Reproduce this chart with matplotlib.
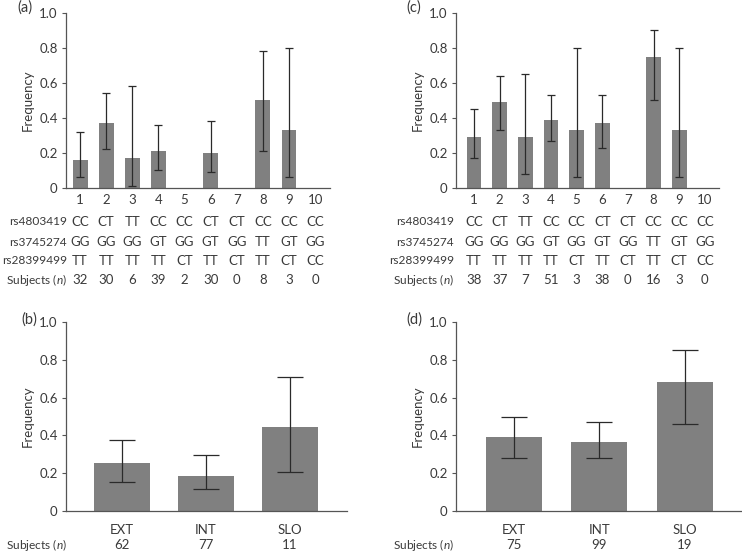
import matplotlib
matplotlib.use("Agg")
import matplotlib.pyplot as plt
import matplotlib.transforms as mtransforms
import numpy as np

plt.rcParams["font.family"] = ["Lato", "DejaVu Sans"]
plt.rcParams["mathtext.fontset"] = "custom"
plt.rcParams["mathtext.it"] = "Lato:italic"
plt.rcParams["mathtext.rm"] = "Lato"

TEXT = "#3a3a3a"
BAR = "#808080"
FS = 9.5
FS_ROW = 8.6

# ---------------------------------------------------------------------------
# Data
# ---------------------------------------------------------------------------
haplotypes = [1, 2, 3, 4, 5, 6, 7, 8, 9, 10]
rs4803419 = ["CC", "CT", "TT", "CC", "CC", "CT", "CT", "CC", "CC", "CC"]
rs3745274 = ["GG", "GG", "GG", "GT", "GG", "GT", "GG", "TT", "GT", "GG"]
rs28399499 = ["TT", "TT", "TT", "TT", "CT", "TT", "CT", "TT", "CT", "CC"]

# panel (a)
freq_a = [0.16, 0.37, 0.17, 0.21, 0.0, 0.20, 0.0, 0.50, 0.33, 0.0]
lo_a = [0.06, 0.22, 0.01, 0.10, None, 0.09, None, 0.21, 0.06, None]
hi_a = [0.32, 0.54, 0.58, 0.36, None, 0.38, None, 0.78, 0.80, None]
subj_a = [32, 30, 6, 39, 2, 30, 0, 8, 3, 0]

# panel (c)
freq_c = [0.29, 0.49, 0.29, 0.39, 0.33, 0.37, 0.0, 0.75, 0.33, 0.0]
lo_c = [0.17, 0.33, 0.08, 0.27, 0.06, 0.23, None, 0.50, 0.06, None]
hi_c = [0.45, 0.64, 0.65, 0.53, 0.80, 0.53, None, 0.90, 0.80, None]
subj_c = [38, 37, 7, 51, 3, 38, 0, 16, 3, 0]

# panels (b) and (d)
groups = ["EXT", "INT", "SLO"]
freq_b = [0.255, 0.185, 0.445]
lo_b = [0.155, 0.115, 0.205]
hi_b = [0.375, 0.295, 0.71]
subj_b = [62, 77, 11]

freq_d = [0.39, 0.365, 0.68]
lo_d = [0.28, 0.28, 0.46]
hi_d = [0.50, 0.47, 0.85]
subj_d = [75, 99, 19]

W, H = 742, 554


def px_axes(fig, left, right, top, bottom):
    return fig.add_axes([left / W, 1 - bottom / H, (right - left) / W, (bottom - top) / H])


def style_axes(ax):
    ax.set_ylim(0, 1.0)
    ax.set_yticks([0, 0.2, 0.4, 0.6, 0.8, 1.0])
    ax.set_yticklabels(["0", "0.2", "0.4", "0.6", "0.8", "1.0"])
    for s in ("top", "right"):
        ax.spines[s].set_visible(False)
    for s in ("left", "bottom"):
        ax.spines[s].set_color("#555555")
        ax.spines[s].set_linewidth(0.9)
    ax.tick_params(axis="y", length=3, width=0.8, color="#555555",
                   labelsize=FS, labelcolor=TEXT, pad=3)
    ax.tick_params(axis="x", length=0, labelsize=FS, labelcolor=TEXT, pad=4)
    ax.set_ylabel("Frequency", fontsize=FS, color=TEXT, labelpad=4)


def draw_bars(ax, x, freq, lo, hi, width, capsize):
    ax.bar(x, freq, width=width, color=BAR, zorder=2)
    xs = [xi for xi, l in zip(x, lo) if l is not None]
    ys = [f for f, l in zip(freq, lo) if l is not None]
    lows = [f - l for f, l in zip(freq, lo) if l is not None]
    highs = [h - f for f, h in zip(freq, hi) if h is not None]
    ax.errorbar(xs, ys, yerr=[lows, highs], fmt="none", ecolor="#2a2a2a",
                elinewidth=0.9, capsize=capsize, capthick=0.9, zorder=3)


def table_rows(fig, ax, label_x, rows):
    trans = mtransforms.blended_transform_factory(ax.transData, fig.transFigure)
    for ypx, label, vals in rows:
        yf = 1 - ypx / H
        fig.text(label_x / W, yf, label, ha="right", va="center",
                 fontsize=FS_ROW, color=TEXT)
        for xi, v in zip(range(1, len(vals) + 1), vals):
            ax.text(xi, yf, str(v), transform=trans, ha="center", va="center",
                    fontsize=FS, color=TEXT, clip_on=False)


fig = plt.figure(figsize=(W / 100, H / 100), dpi=100)

# ---- (a) ----
ax_a = px_axes(fig, 66, 330, 13, 188)
draw_bars(ax_a, haplotypes, freq_a, lo_a, hi_a, 0.57, 3.2)
ax_a.set_xlim(0.46, 10.57)
ax_a.set_xticks(haplotypes)
style_axes(ax_a)
table_rows(fig, ax_a, 67, [
    (222, "rs4803419", rs4803419),
    (242, "rs3745274", rs3745274),
    (261, "rs28399499", rs28399499),
    (280, "Subjects ($n$)", subj_a),
])
fig.text(17 / W, 1 - 8 / H, "(a)", fontsize=10.5, color=TEXT, va="center")

# ---- (c) ----
ax_c = px_axes(fig, 456, 719, 13, 188)
draw_bars(ax_c, haplotypes, freq_c, lo_c, hi_c, 0.57, 3.2)
ax_c.set_xlim(0.30, 10.55)
ax_c.set_xticks(haplotypes)
style_axes(ax_c)
table_rows(fig, ax_c, 454, [
    (222, "rs4803419", rs4803419),
    (242, "rs3745274", rs3745274),
    (261, "rs28399499", rs28399499),
    (280, "Subjects ($n$)", subj_c),
])
fig.text(406 / W, 1 - 8 / H, "(c)", fontsize=10.5, color=TEXT, va="center")

# ---- (b) ----
xg = np.arange(len(groups))
ax_b = px_axes(fig, 66, 347, 322, 511)
draw_bars(ax_b, xg, freq_b, lo_b, hi_b, 0.667, 9.5)
ax_b.set_xlim(-0.667, 2.68)
ax_b.set_xticks(xg)
ax_b.set_xticklabels(groups)
style_axes(ax_b)
ax_b.tick_params(axis="x", pad=9)
trans_b = mtransforms.blended_transform_factory(ax_b.transData, fig.transFigure)
fig.text(67 / W, 1 - 545 / H, "Subjects ($n$)", ha="right", va="center",
         fontsize=FS_ROW, color=TEXT)
for xi, v in zip(xg, subj_b):
    ax_b.text(xi, 1 - 545 / H, str(v), transform=trans_b, ha="center",
              va="center", fontsize=FS, color=TEXT, clip_on=False)
fig.text(21 / W, 1 - 320 / H, "(b)", fontsize=10.5, color=TEXT, va="center")

# ---- (d) ----
ax_d = px_axes(fig, 456, 742, 322, 511)
draw_bars(ax_d, xg, freq_d, lo_d, hi_d, 0.655, 9.5)
ax_d.set_xlim(-0.68, 2.67)
ax_d.set_xticks(xg)
ax_d.set_xticklabels(groups)
style_axes(ax_d)
ax_d.tick_params(axis="x", pad=9)
trans_d = mtransforms.blended_transform_factory(ax_d.transData, fig.transFigure)
fig.text(454 / W, 1 - 545 / H, "Subjects ($n$)", ha="right", va="center",
         fontsize=FS_ROW, color=TEXT)
for xi, v in zip(xg, subj_d):
    ax_d.text(xi, 1 - 545 / H, str(v), transform=trans_d, ha="center",
              va="center", fontsize=FS, color=TEXT, clip_on=False)
fig.text(406 / W, 1 - 320 / H, "(d)", fontsize=10.5, color=TEXT, va="center")

fig.savefig("out.png", dpi=100)
